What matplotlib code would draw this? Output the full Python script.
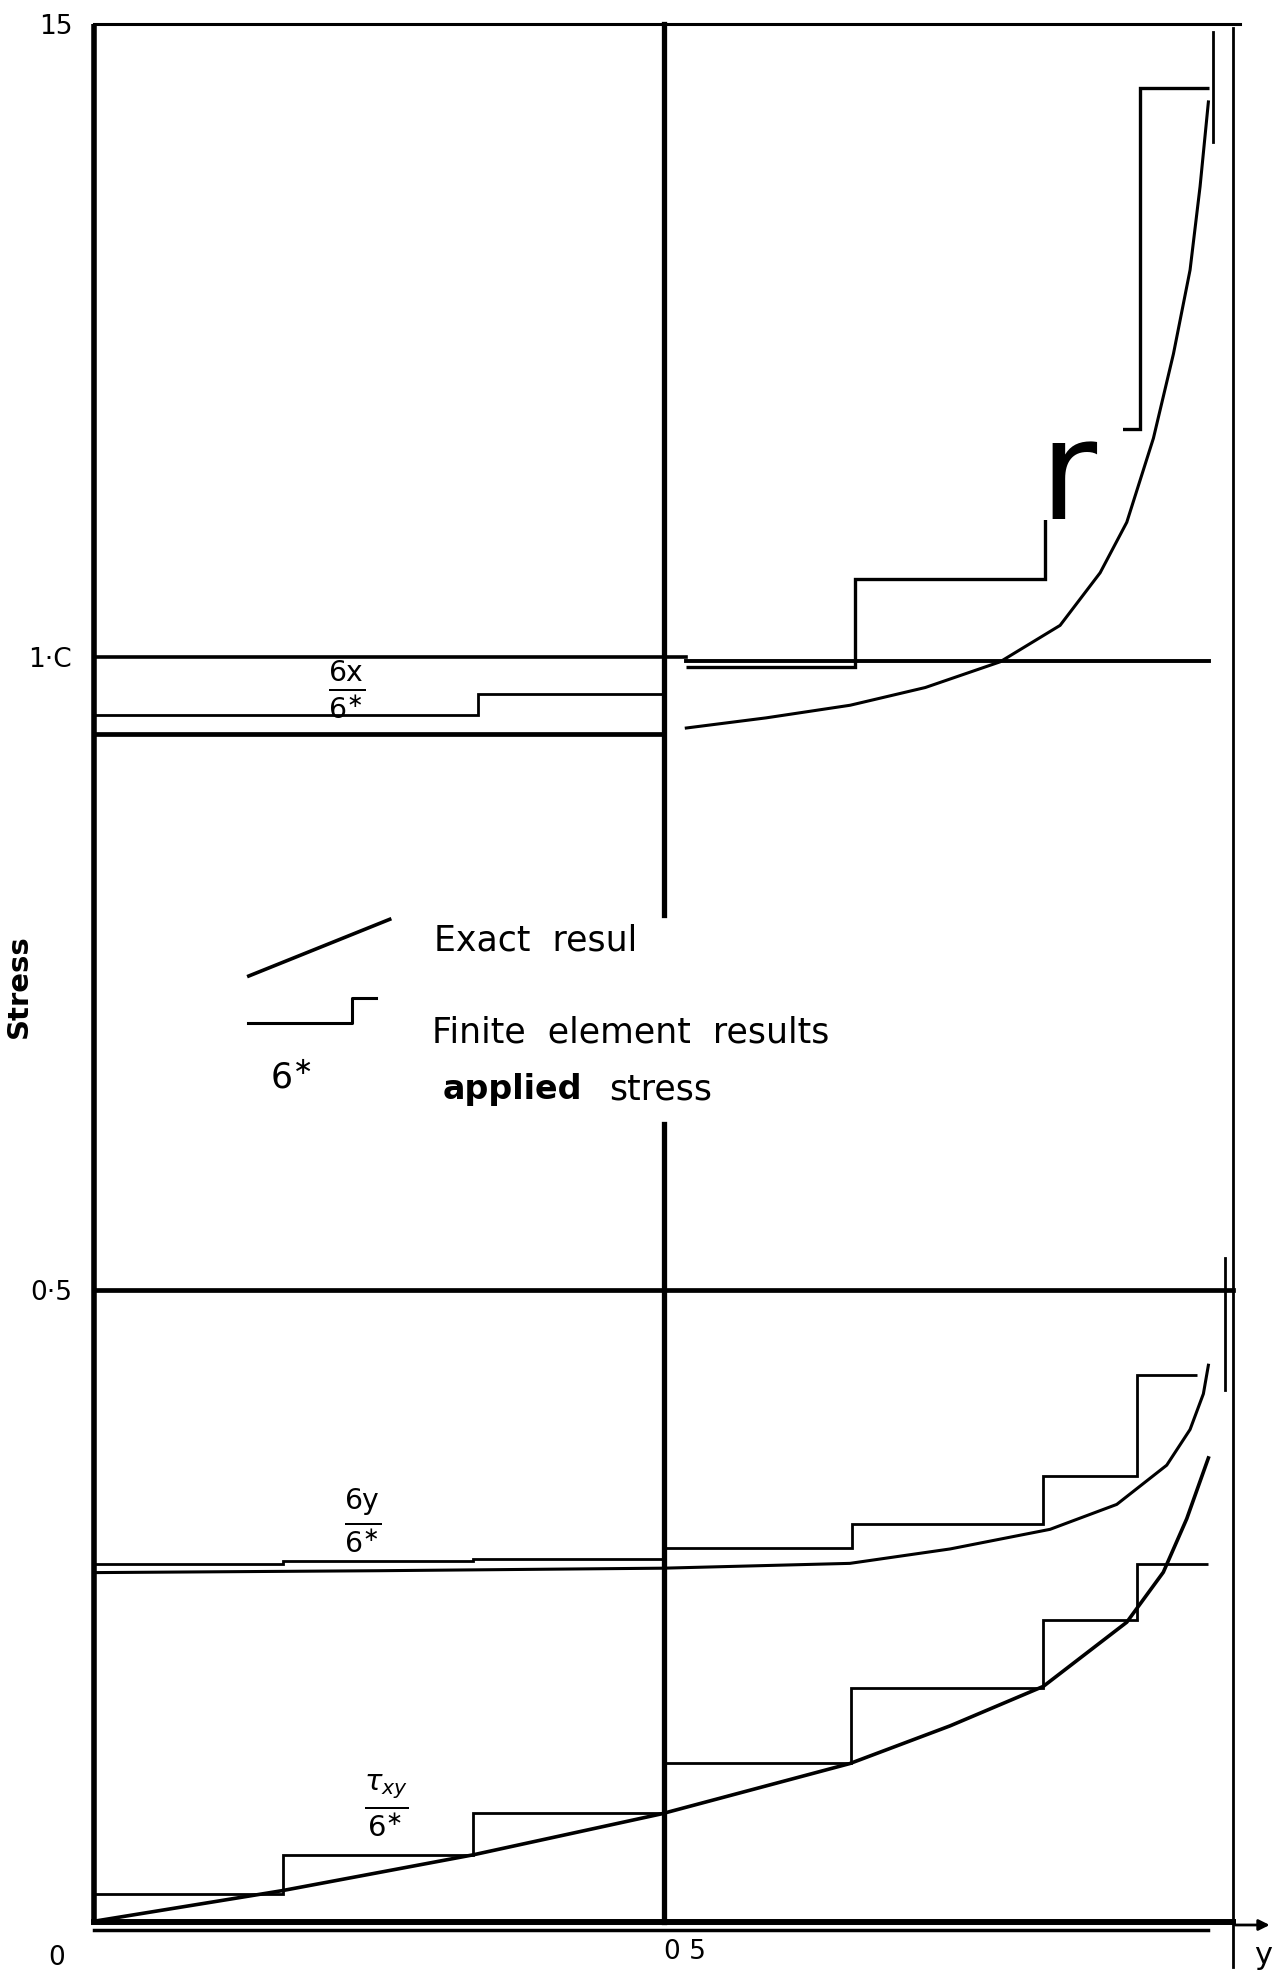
import matplotlib
matplotlib.use('Agg')
import matplotlib.pyplot as plt
from matplotlib.path import Path

plt.rcParams['font.family'] = ['DejaVu Sans']
plt.rcParams['mathtext.fontset'] = 'dejavusans'

# ---------------- data ----------------
# sigma_x / sigma*
sx_fe_left_edges = [0.0, 0.337, 0.5]
sx_fe_left_vals = [0.954, 0.971]
sx_exact_left_x = [0.0, 0.5]
sx_exact_left_y = [0.939, 0.939]
sx_fe_right_edges = [0.52, 0.668, 0.835, 0.919, 0.979]
sx_fe_right_vals = [0.9925, 1.062, 1.18, 1.45]
sx_exact_right_x = [0.520, 0.590, 0.664, 0.730, 0.7957, 0.8484, 0.8836, 0.907, 0.9304, 0.948, 0.9626, 0.9714, 0.9787]
sx_exact_right_y = [0.944, 0.952, 0.962, 0.976, 0.9963, 1.0251, 1.0667, 1.1066, 1.173, 1.2397, 1.306, 1.372, 1.4388]
applied_left_x = [0.0, 0.52]
applied_left_y = [1.0, 1.0]
applied_right_x = [0.52, 0.979]
applied_right_y = [0.997, 0.997]

# sigma_y / sigma*
sy_fe_edges = [0.0, 0.166, 0.333, 0.5, 0.666, 0.8337, 0.9158, 0.9685]
sy_fe_vals = [0.2836, 0.286, 0.287, 0.296, 0.3149, 0.3529, 0.4326]
sy_exact_x = [0.0, 0.25, 0.5, 0.6637, 0.7518, 0.8396, 0.8982, 0.9421, 0.9626, 0.9743, 0.9787]
sy_exact_y = [0.2765, 0.278, 0.280, 0.2838, 0.2952, 0.3107, 0.3304, 0.3614, 0.3896, 0.4178, 0.4404]

# tau_xy / sigma*
txy_fe_edges = [0.0, 0.166, 0.333, 0.5, 0.665, 0.8337, 0.9158, 0.9787]
txy_fe_vals = [0.0224, 0.0533, 0.0863, 0.126, 0.185, 0.2388, 0.2834]
txy_exact_x = [0.0, 0.164, 0.333, 0.498, 0.6637, 0.7518, 0.8337, 0.907, 0.9391, 0.9597, 0.9787]
txy_exact_y = [0.001, 0.025, 0.0535, 0.0858, 0.1256, 0.1554, 0.1866, 0.2373, 0.2768, 0.3191, 0.3671]

# axes / tick labels
ytick_vals = [0.5, 1.0, 1.5]
ytick_labels = ['0·5', '1·C', '15']
xtick_vals = [0.5]
xtick_labels = ['0 5']
mid_break = [0.631, 0.796]

# legend glyphs
leg_exact_x = [0.1356, 0.2594]
leg_exact_y = [0.748, 0.7928]
leg_fe_x = [0.135, 0.226, 0.226, 0.247]
leg_fe_y = [0.7108, 0.7108, 0.731, 0.731]

# small marker lines near right edge
mark1_x = [0.983, 0.983]
mark1_y = [1.407, 1.494]
mark2_x = [0.993, 0.993]
mark2_y = [0.421, 0.525]


def r_mask(x0, y0, width, height, mutation_size):
    """White box behind the stray 'r': trimmed below the baseline, widened to the right."""
    m = mutation_size
    left = x0 - 0.02 * m
    right = x0 + width + 0.19 * m
    bottom = y0 + 0.2 * m
    top = y0 + height + 0.02 * m
    return Path([(left, bottom), (right, bottom), (right, top), (left, top), (left, bottom)],
                closed=True)


# ---------------- figure ----------------
fig = plt.figure(figsize=(12.78, 19.75), dpi=100)
ax = fig.add_axes([0.0739, 0.0266, 0.8906, 0.961])
ax.set_xlim(0, 1.0)
ax.set_ylim(0, 1.5)
for s in ax.spines.values():
    s.set_visible(False)

K = 'black'
# frame and guide lines
ax.plot([0, 0], [0, 1.5], color=K, lw=4.0, clip_on=False, solid_capstyle='butt')
ax.plot([0, 1.0], [0, 0], color=K, lw=4.3, clip_on=False)
ax.plot([0, 0.978], [-0.006, -0.006], color=K, lw=2.5, clip_on=False)
ax.plot([0, 1.0066], [1.5, 1.5], color=K, lw=2.2, clip_on=False)
ax.plot([1.0, 1.0], [-0.035, 1.497], color=K, lw=2.0, clip_on=False)
ax.plot([0.5, 0.5], [0, mid_break[0]], color=K, lw=3.8, clip_on=False)
ax.plot([0.5, 0.5], [mid_break[1], 1.5], color=K, lw=3.8, clip_on=False)
ax.plot([0, 1.0], [0.5, 0.5], color=K, lw=3.4, clip_on=False)
ax.annotate('', xy=(1.035, -0.002), xytext=(1.0, -0.002),
            arrowprops=dict(arrowstyle='-|>', lw=2, color=K, mutation_scale=16),
            annotation_clip=False)
ax.plot(mark1_x, mark1_y, color=K, lw=2.0, clip_on=False)
ax.plot(mark2_x, mark2_y, color=K, lw=2.0, clip_on=False)

# sigma_x
ax.plot(applied_left_x, applied_left_y, color=K, lw=2.6)
ax.plot(applied_right_x, applied_right_y, color=K, lw=2.8)
ax.stairs(sx_fe_left_vals, sx_fe_left_edges, baseline=None, color=K, lw=2.0)
ax.plot(sx_exact_left_x, sx_exact_left_y, color=K, lw=3.4)
ax.stairs(sx_fe_right_vals, sx_fe_right_edges, baseline=None, color=K, lw=2.4)
ax.plot(sx_exact_right_x, sx_exact_right_y, color=K, lw=2.2, solid_joinstyle='round', zorder=6)

# sigma_y
ax.stairs(sy_fe_vals, sy_fe_edges, baseline=None, color=K, lw=2.0)
ax.plot(sy_exact_x, sy_exact_y, color=K, lw=2.2, solid_joinstyle='round')

# tau_xy
ax.stairs(txy_fe_vals, txy_fe_edges, baseline=None, color=K, lw=2.0)
ax.plot(txy_exact_x, txy_exact_y, color=K, lw=2.6, solid_joinstyle='round')

# ticks
ax.set_yticks(ytick_vals)
ax.set_yticklabels(ytick_labels, fontsize=19)
ax.set_xticks(xtick_vals)
ax.set_xticklabels(xtick_labels, fontsize=19, ha='left')
ax.tick_params(axis='y', length=0, pad=16)
ax.tick_params(axis='x', length=0, pad=12)
ax.text(-0.033, -0.028, '0', fontsize=19, ha='center', va='center', clip_on=False)
ax.text(1.027, -0.015, 'y', fontsize=22, ha='center', va='top', clip_on=False)
ax.text(-0.066, 0.74, 'Stress', fontsize=21, fontweight='bold', rotation=90,
        ha='center', va='center', clip_on=False)

# curve labels
ax.text(0.222, 0.975, r'$\frac{\mathregular{6x}}{\mathregular{6}^{\ast}}$', fontsize=29,
        ha='center', va='center')
ax.text(0.236, 0.318, r'$\frac{\mathregular{6y}}{\mathregular{6}^{\ast}}$', fontsize=29,
        ha='center', va='center')
ax.text(0.256, 0.092, r'$\frac{\tau_{xy}}{\mathregular{6}^{\ast}}$', fontsize=30,
        ha='center', va='center')

# legend
ax.plot(leg_exact_x, leg_exact_y, color=K, lw=2.6)
ax.plot(leg_fe_x, leg_fe_y, color=K, lw=2.2)
ax.text(0.2987, 0.776, 'Exact  resul', fontsize=25, ha='left', va='center')
ax.text(0.2965, 0.7035, 'Finite  element  results', fontsize=25, ha='left', va='center')
ax.text(0.154, 0.667, r'$\mathregular{6^{\ast}}$', fontsize=25, ha='left', va='center')
ax.text(0.306, 0.658, 'applied', fontsize=24, fontweight='bold', ha='left', va='center')
ax.text(0.452, 0.658, 'stress', fontsize=25, ha='left', va='center')

# stray 'r' glyph covering part of the step line
ax.text(0.830, 1.109, 'r', fontsize=100, ha='left', va='baseline', zorder=5,
        bbox=dict(boxstyle=r_mask, facecolor='white', edgecolor='none'))

fig.savefig('out.png', dpi=100, facecolor='white')
